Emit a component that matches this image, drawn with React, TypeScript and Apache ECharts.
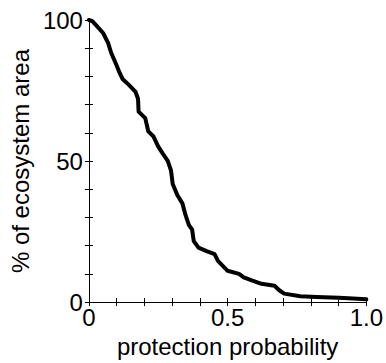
import React, { useEffect, useRef } from "react";
import * as echarts from "echarts";

const probability = [
  0, 0.012, 0.028, 0.051, 0.069, 0.08, 0.098, 0.11, 0.121, 0.144, 0.168, 0.177, 0.179,
  0.203, 0.214, 0.232, 0.249, 0.265, 0.284, 0.296, 0.302, 0.319, 0.337, 0.348,
  0.36, 0.372, 0.378, 0.395, 0.424, 0.453, 0.465, 0.5, 0.541, 0.558, 0.587,
  0.622, 0.669, 0.686, 0.704, 0.762, 0.82, 0.902, 1.0,
];
const areaPct = [
  100, 99.6, 97.9, 95.4, 91.9, 88.4, 84.3, 81.4, 79.1, 77, 74.5, 72.1, 67.5,
  65.2, 60.5, 58.8, 55.3, 52.8, 50.1, 46.6, 41.9, 37.9, 35, 30.9,
  27.4, 25.7, 21.6, 19.3, 18.1, 17, 14.6, 11.1, 10, 8.8, 7.7,
  6.5, 5.8, 4.2, 3, 2.1, 1.8, 1.5, 1.0,
];
const xTickLabels: Record<string, string> = { "0": "0", "0.5": "0.5", "1": "1.0" };
const yTickLabels: Record<string, string> = { "0": "0", "50": "50", "100": "100" };

const FONT = "'Liberation Sans', Arial, Helvetica, sans-serif";

export default function App() {
  const ref = useRef<HTMLDivElement>(null);
  useEffect(() => {
    if (!ref.current) return;
    const chart = echarts.init(ref.current, undefined, { renderer: "svg" });
    const tick = { show: true, inside: true, length: 4, lineStyle: { color: "#000", width: 1 } };
    const line = { show: true, lineStyle: { color: "#000", width: 1 } };
    const fmtX = (v: number) => {
      const k = String(Math.round(v * 10) / 10);
      return xTickLabels[k] ?? "";
    };
    const fmtY = (v: number) => yTickLabels[String(Math.round(v))] ?? "";
    chart.setOption({
      animation: false,
      backgroundColor: "#fff",
      grid: { left: 82, top: 20, right: 18, bottom: 56, containLabel: false },
      xAxis: [
        {
          type: "value",
          min: 0,
          max: 1,
          interval: 0.1,
          axisLine: line,
          axisTick: tick,
          splitLine: { show: false },
          axisLabel: {
            formatter: fmtX,
            color: "#000",
            fontSize: 24,
            fontFamily: FONT,
            margin: 3,
            showMinLabel: true,
            showMaxLabel: true,
          },
          name: "protection probability",
          nameLocation: "middle",
          nameGap: 31,
          nameTextStyle: { color: "#000", fontSize: 24, fontFamily: FONT },
        },
        {
          type: "value",
          position: "top",
          min: 0,
          max: 1,
          interval: 0.1,
          axisLine: line,
          axisTick: tick,
          splitLine: { show: false },
          axisLabel: { show: false },
        },
      ],
      yAxis: [
        {
          type: "value",
          min: 0,
          max: 100,
          interval: 10,
          axisLine: line,
          axisTick: tick,
          splitLine: { show: false },
          axisLabel: {
            formatter: fmtY,
            color: "#000",
            fontSize: 24,
            fontFamily: FONT,
            margin: 6,
            showMinLabel: true,
            showMaxLabel: true,
          },
          name: "% of ecosystem area",
          nameLocation: "middle",
          nameGap: 48,
          nameTextStyle: { color: "#000", fontSize: 24, fontFamily: FONT },
        },
        {
          type: "value",
          position: "right",
          min: 0,
          max: 100,
          interval: 10,
          axisLine: line,
          axisTick: tick,
          splitLine: { show: false },
          axisLabel: { show: false },
        },
      ],
      series: [
        {
          type: "line",
          xAxisIndex: 0,
          yAxisIndex: 0,
          data: probability.map((p, i) => [p, areaPct[i]]),
          showSymbol: false,
          symbol: "none",
          lineStyle: { color: "#000", width: 4, join: "round", cap: "round" },
          clip: false,
        },
      ],
    });
    return () => chart.dispose();
  }, []);
  return (
    <div
      ref={ref}
      style={{ position: "fixed", left: 0, top: 0, width: 386, height: 363, background: "#fff" }}
    />
  );
}
